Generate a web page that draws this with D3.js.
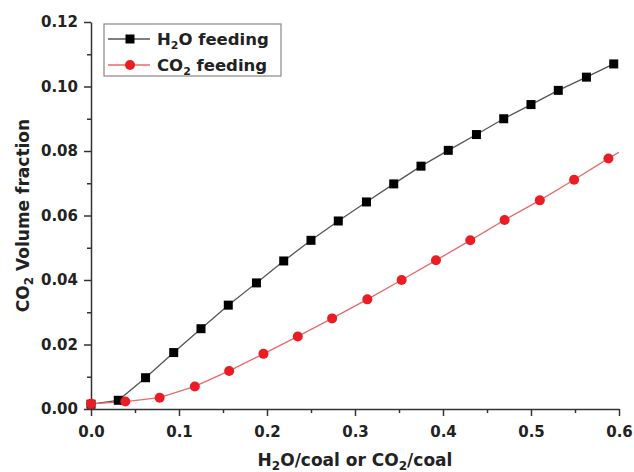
<!DOCTYPE html>
<html>
<head>
<meta charset="utf-8">
<script src="https://cdn.jsdelivr.net/npm/d3@7"></script>
<style>
  body { margin: 0; background: #fff; }
  text { font-family: "DejaVu Sans", sans-serif; font-weight: bold; fill: #222; }
</style>
</head>
<body>
<div id="chart-area"></div>
<script>
// H2O feeding series
var h2oX = [0, 0.031, 0.062, 0.094, 0.125, 0.156, 0.188, 0.219, 0.25, 0.281, 0.313, 0.344, 0.375, 0.406, 0.438, 0.469, 0.5, 0.531, 0.563, 0.594];
var h2oY = [0.0015, 0.0027, 0.0097, 0.0175, 0.0249, 0.0322, 0.0391, 0.0459, 0.0523, 0.0583, 0.0642, 0.0698, 0.0753, 0.0802, 0.0851, 0.0900, 0.0944, 0.0988, 0.1029, 0.1070];
// CO2 feeding series (last point lies past the axis end)
var co2X = [0, 0.039, 0.078, 0.118, 0.157, 0.196, 0.235, 0.274, 0.314, 0.353, 0.392, 0.431, 0.47, 0.51, 0.549, 0.588, 0.627];
var co2Y = [0.0016, 0.0023, 0.0035, 0.0070, 0.0118, 0.0171, 0.0225, 0.0281, 0.0340, 0.0400, 0.0461, 0.0523, 0.0586, 0.0647, 0.0711, 0.0777, 0.0840];

var xTicks = [0, 0.1, 0.2, 0.3, 0.4, 0.5, 0.6];
var yTicks = [0, 0.02, 0.04, 0.06, 0.08, 0.10, 0.12];

var svg = d3.select("#chart-area")
  .append("svg")
  .attr("width", 634)
  .attr("height", 472);

var margin = { top: 22, right: 15, bottom: 63, left: 91 };
var width = 634 - margin.left - margin.right;
var height = 472 - margin.top - margin.bottom;

var g = svg.append("g")
  .attr("transform", "translate(" + margin.left + "," + margin.top + ")");

var x = d3.scaleLinear().domain([0, 0.6]).range([0, width]);
var y = d3.scaleLinear().domain([0, 0.12]).range([height, 0]);

g.append("clipPath").attr("id", "plot-clip")
  .append("rect").attr("width", width).attr("height", height);

// minor ticks
g.append("g")
  .attr("transform", "translate(0," + height + ")")
  .call(d3.axisBottom(x).tickValues(d3.range(0.05, 0.6, 0.1)).tickSize(4).tickFormat(""))
  .call(a => a.select(".domain").remove());
g.append("g")
  .call(d3.axisLeft(y).tickValues(d3.range(0.01, 0.12, 0.02)).tickSize(4).tickFormat(""))
  .call(a => a.select(".domain").remove());

// major axes
var xAxis = g.append("g")
  .attr("class", "x axis")
  .attr("transform", "translate(0," + height + ")")
  .call(d3.axisBottom(x).tickValues(xTicks).tickSize(7).tickSizeOuter(0).tickFormat(d3.format(".1f")));
xAxis.selectAll("text")
  .attr("y", 28).attr("dy", 0)
  .attr("font-size", "15px");

var yAxis = g.append("g")
  .attr("class", "y axis")
  .call(d3.axisLeft(y).tickValues(yTicks).tickSize(7).tickSizeOuter(0).tickFormat(d3.format(".2f")));
yAxis.selectAll("text")
  .attr("x", -13)
  .attr("font-size", "15px");

g.selectAll(".domain, .tick line")
  .attr("stroke", "#333")
  .attr("stroke-width", 1.5);

// lines
var h2o = h2oX.map((d, i) => ({ x: d, y: h2oY[i] }));
var co2 = co2X.map((d, i) => ({ x: d, y: co2Y[i] }));

var line = d3.line().x(d => x(d.x)).y(d => y(d.y));

g.append("path")
  .datum(h2o)
  .attr("clip-path", "url(#plot-clip)")
  .attr("fill", "none")
  .attr("stroke", "#555")
  .attr("stroke-width", 1.3)
  .attr("d", line);

g.append("path")
  .datum(co2)
  .attr("clip-path", "url(#plot-clip)")
  .attr("fill", "none")
  .attr("stroke", "#e86a6a")
  .attr("stroke-width", 1.3)
  .attr("d", line);

g.selectAll("rect.h2o")
  .data(h2o.filter(d => d.x <= 0.6))
  .enter()
  .append("rect")
  .attr("class", "h2o")
  .attr("x", d => x(d.x) - 4.5)
  .attr("y", d => y(d.y) - 4.5)
  .attr("width", 9)
  .attr("height", 9)
  .attr("fill", "#000");

g.selectAll("circle.co2")
  .data(co2.filter(d => d.x <= 0.6))
  .enter()
  .append("circle")
  .attr("class", "co2")
  .attr("cx", d => x(d.x))
  .attr("cy", d => y(d.y))
  .attr("r", 5)
  .attr("fill", "#ec1c24");

// legend
var legend = svg.append("g").attr("transform", "translate(104,24)");
legend.append("rect")
  .attr("width", 177)
  .attr("height", 52)
  .attr("fill", "#fff")
  .attr("stroke", "#888")
  .attr("stroke-width", 1.2);

var legendItems = [
  { pre: "H", sub: "2", post: "O feeding", stroke: "#555", fill: "#000", shape: "square" },
  { pre: "CO", sub: "2", post: " feeding", stroke: "#e86a6a", fill: "#ec1c24", shape: "circle" }
];

legendItems.forEach((it, i) => {
  var row = legend.append("g").attr("transform", "translate(0," + (15 + i * 26) + ")");
  row.append("line")
    .attr("x1", 4).attr("x2", 46)
    .attr("stroke", it.stroke).attr("stroke-width", 1.3);
  if (it.shape === "square") {
    row.append("rect").attr("x", 21.5).attr("y", -4.5).attr("width", 9).attr("height", 9).attr("fill", it.fill);
  } else {
    row.append("circle").attr("cx", 26).attr("r", 5).attr("fill", it.fill);
  }
  var t = row.append("text")
    .attr("x", 53)
    .attr("y", 6)
    .attr("font-size", "16.5px");
  t.append("tspan").text(it.pre);
  t.append("tspan").attr("font-size", "11px").attr("dy", 4).text(it.sub);
  t.append("tspan").attr("dy", -4).text(it.post);
});

// axis labels
var xl = svg.append("text")
  .attr("x", margin.left + width / 2)
  .attr("y", 466)
  .attr("font-size", "17px")
  .attr("text-anchor", "middle");
xl.append("tspan").text("H");
xl.append("tspan").attr("font-size", "12px").attr("dy", 4).text("2");
xl.append("tspan").attr("dy", -4).text("O/coal or CO");
xl.append("tspan").attr("font-size", "12px").attr("dy", 4).text("2");
xl.append("tspan").attr("dy", -4).text("/coal");

var yl = svg.append("text")
  .attr("transform", "translate(29," + (margin.top + height / 2) + ") rotate(-90)")
  .attr("font-size", "17px")
  .attr("text-anchor", "middle");
yl.append("tspan").text("CO");
yl.append("tspan").attr("font-size", "12px").attr("dy", 4).text("2");
yl.append("tspan").attr("dy", -4).text(" Volume fraction");
</script>
</body>
</html>
